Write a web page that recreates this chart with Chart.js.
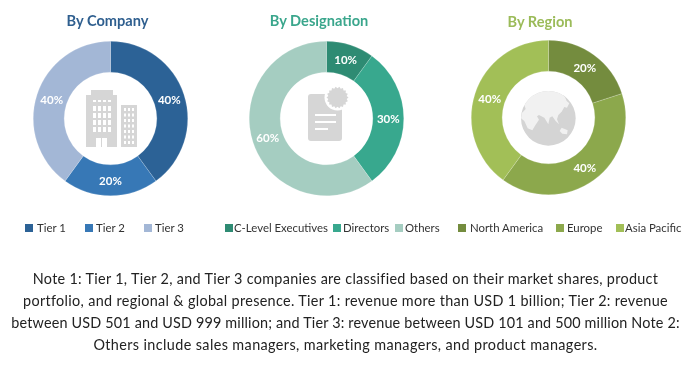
<!DOCTYPE html>
<html><head><meta charset="utf-8">
<script src="https://cdn.jsdelivr.net/npm/chart.js@4"></script>
<style>
html,body{margin:0;padding:0;background:#fff}
body{width:691px;height:367px;position:relative;overflow:hidden;font-family:Lato,sans-serif}
canvas{position:absolute}
.t{position:absolute;font-weight:700;font-size:14.6px;white-space:nowrap;transform:translateX(-50%);line-height:20px}
.l{position:absolute;font-size:11.4px;color:#333;white-space:nowrap;line-height:14px}
.s{position:absolute;width:7.5px;height:7.5px}
#note{position:absolute;left:0;width:691px;top:268px;text-align:center;font-family:Lato,sans-serif;font-size:14.4px;line-height:22px;color:#222;white-space:nowrap}
svg{position:absolute;left:0;top:0}
</style></head><body>
<canvas id="c0" width="155" height="155" style="left:32.5px;top:41px"></canvas>
<canvas id="c1" width="155" height="155" style="left:248.5px;top:41px"></canvas>
<canvas id="c2" width="155" height="155" style="left:470.5px;top:40px"></canvas>
<svg id="icons" width="691" height="367"></svg>
<div id="note"><span style="letter-spacing:.3px">Note 1: Tier 1, Tier 2, and Tier 3 companies are classified based on their market shares, product</span><br><span style="letter-spacing:.33px">portfolio, and regional &amp; global presence. Tier 1: revenue more than USD 1 billion; Tier 2: revenue</span><br><span style="letter-spacing:.17px">between USD 501 and USD 999 million; and Tier 3: revenue between USD 101 and 500 million Note 2:</span><br><span style="letter-spacing:.39px">Others include sales managers, marketing managers, and product managers.</span></div>
<script>
const companyLabels = ["Tier 1", "Tier 2", "Tier 3"];
const companyValues = [40, 20, 40];
const companyColors = ["#2C6296", "#3778B6", "#A3B7D6"];
const designationLabels = ["C-Level Executives", "Directors", "Others"];
const designationValues = [10, 30, 60];
const designationColors = ["#2E8B73", "#38A88E", "#A5CDC1"];
const regionLabels = ["North America", "Europe", "Asia Pacific"];
const regionValues = [20, 40, 40];
const regionColors = ["#748C3E", "#8CA84C", "#A2BF57"];

const pctPlugin = {
  id: "pct",
  afterDatasetsDraw(chart) {
    const ctx = chart.ctx, meta = chart.getDatasetMeta(0);
    ctx.save();
    ctx.font = "700 11.5px Lato, sans-serif";
    ctx.fillStyle = "#fff";
    ctx.textAlign = "center";
    ctx.textBaseline = "middle";
    meta.data.forEach((arc, i) => {
      const p = arc.tooltipPosition();
      ctx.fillText(chart.data.datasets[0].data[i] + "%", p.x, p.y + 1);
    });
    ctx.restore();
  }
};
function donut(id, labels, values, colors) {
  new Chart(document.getElementById(id), {
    type: "doughnut",
    data: { labels, datasets: [{ data: values, backgroundColor: colors, borderColor: "rgba(255,255,255,.35)", borderWidth: 0.5 }] },
    options: { responsive: false, animation: false, cutout: "60%", layout: { padding: 0 },
      plugins: { legend: { display: false }, tooltip: { enabled: false } } },
    plugins: [pctPlugin]
  });
}
donut("c0", companyLabels, companyValues, companyColors);
donut("c1", designationLabels, designationValues, designationColors);
donut("c2", regionLabels, regionValues, regionColors);

function text(cls, x, y, s, color) {
  const d = document.createElement("div");
  d.className = cls; d.style.left = x + "px"; d.style.top = y + "px"; d.textContent = s;
  if (color) d.style.color = color;
  document.body.appendChild(d);
}
function square(x, y, c) {
  const d = document.createElement("div");
  d.className = "s"; d.style.left = x + "px"; d.style.top = y + "px"; d.style.background = c;
  document.body.appendChild(d);
}
text("t", 107.5, 11, "By Company", "#2F5F8F");
text("t", 319, 11, "By Designation", "#3AA68C");
text("t", 540, 12, "By Region", "#9BBB59");
const legendRows = [
  [companyLabels, companyColors, [25, 85, 144], [37, 96, 155]],
  [designationLabels, designationColors, [225, 333, 395], [234, 343, 405]],
  [regionLabels, regionColors, [458, 556, 616], [470, 567, 625]]
];
legendRows.forEach(([labs, cols, sx, tx]) => labs.forEach((s, i) => {
  square(sx[i], 224, cols[i]);
  text("l", tx[i], 221, s);
}));

const grey = "#D6D6D6";
let svg = "";
// building
svg += `<rect x="91" y="90" width="22" height="6" fill="${grey}"/><rect x="86" y="95" width="31" height="52" fill="${grey}"/><rect x="121" y="105" width="16" height="42" fill="${grey}"/>`;
for (let r = 0; r < 5; r++) for (let c = 0; c < 4; c++)
  svg += `<rect x="${93 + c * 5}" y="${r == 0 ? 100 : 106 + (r - 1) * 7}" width="3" height="${r == 0 ? 2 : 5}" fill="#fff"/>`;
svg += `<rect x="96" y="138" width="11" height="9" fill="#fff"/><rect x="101" y="138" width="1" height="9" fill="${grey}"/>`;
for (let r = 0; r < 7; r++) for (let c = 0; c < 3; c++)
  svg += `<rect x="${124 + c * 4}" y="${108 + r * 5.5}" width="2" height="3" fill="#fff"/>`;
// document
svg += `<rect x="308" y="94" width="34" height="47" rx="3" fill="${grey}"/>`;
[[315, 115, 21], [315, 122, 21], [315, 129, 13]].forEach(l =>
  svg += `<rect x="${l[0]}" y="${l[1] - 1}" width="${l[2]}" height="2" fill="#fff"/>`);
let seal = "";
for (let i = 0; i < 36; i++) {
  const a = i * Math.PI / 18, r = i % 2 ? 9.3 : 11;
  seal += (337.5 + r * Math.cos(a)).toFixed(1) + "," + (97.5 + r * Math.sin(a)).toFixed(1) + " ";
}
svg += `<circle cx="337.5" cy="97.5" r="13" fill="#fff"/><polygon points="${seal}" fill="${grey}"/>`;
// globe
svg += `<g transform="translate(515 85) scale(.3333)"><circle cx="100" cy="100" r="82" fill="#D4D4D4"/>`;
svg += `<clipPath id="gc"><circle cx="100" cy="100" r="82"/></clipPath><g clip-path="url(#gc)" fill="#F1F1F1">`;
svg += `<path d="M20 85 L32 72 L28 60 L40 38 L70 20 L105 12 L135 20 L150 36 L155 48 L163 55 L156 68 L148 66 L140 80 L130 90 L126 103 L132 118 L122 108 L112 94 L104 98 L100 118 L88 98 L72 90 L66 94 L72 104 L60 122 L52 136 L38 130 L28 108 L18 100Z"/>`;
svg += `<path d="M140 128 L158 136 L156 148 L142 146 L134 138Z"/></g></g>`;
document.getElementById("icons").innerHTML = svg;
</script>
</body></html>
